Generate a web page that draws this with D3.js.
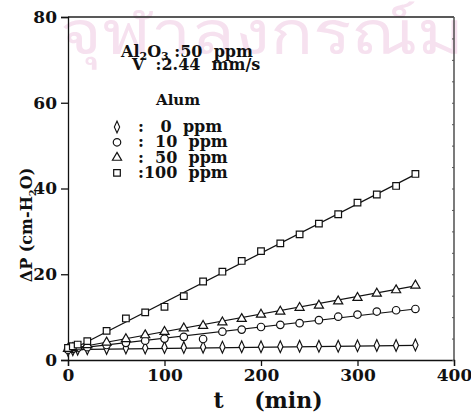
<!DOCTYPE html>
<html><head><meta charset="utf-8">
<script src="https://cdn.jsdelivr.net/npm/d3@7"></script>
<style>body{margin:0;background:#fff}svg{display:block}text{font-family:"DejaVu Serif",serif;font-weight:bold;fill:#111}</style>
</head><body>
<svg id="c" width="471" height="412"></svg>
<script>
const times = [0,5,10,20,40,60,80,100,120,140,160,180,200,220,240,260,280,300,320,340,360];
const alum0   = [2.3,2.4,2.5,2.6,2.7,2.8,2.8,2.9,2.9,3.0,3.0,3.1,3.1,3.1,3.2,3.2,3.2,3.3,3.4,3.4,3.5];
const alum10  = [2.4,2.6,2.8,3.0,3.5,4.0,4.5,5.0,5.4,4.9,6.6,7.1,7.7,8.2,8.6,9.3,10.1,10.6,11.3,11.6,11.9];
const alum50  = [2.6,2.8,3.0,3.5,4.1,4.9,5.8,6.6,7.4,8.0,8.8,9.6,10.6,11.3,12.2,12.7,13.7,14.5,15.5,16.3,17.4];
const alum100 = [2.8,3.2,3.6,4.4,6.8,9.7,11.1,12.4,14.9,18.3,20.6,23.1,25.4,27.2,29.3,31.8,34.0,36.7,38.6,40.6,43.4];
// fitted straight lines: value at t = 0 and t = 360
const fitT = [0,360];
const fit0 = [2.4,3.4], fit10 = [2.5,11.9], fit50 = [2.5,17.3], fit100 = [2.0,43.3];
const xTicks = [0,100,200,300,400];
const yTicks = [0,20,40,60,80];
const legendLabels = [":   0  ppm", ":  10  ppm", ":  50  ppm", ":100  ppm"];

const svg = d3.select("#c");
const x = d3.scaleLinear().domain([0,400]).range([68,454]);
const y = d3.scaleLinear().domain([0,80]).range([360,17]);

// watermark
const wm = svg.append("text").attr("x",60).attr("y",54).attr("font-size",60)
  .style("font-family","'DejaVu Sans','Noto Sans',sans-serif").style("font-weight","normal")
  .style("fill","#f6e1ef").text("จุฬาลงกรณ์ม");
wm.attr("textLength",405).attr("lengthAdjust","spacingAndGlyphs");

// frame
svg.append("line").attr("x1",x(0)).attr("x2",x(400)).attr("y1",y(80)).attr("y2",y(80)).attr("stroke","#222").attr("stroke-width",1.3);
svg.append("line").attr("x1",x(400)).attr("x2",x(400)).attr("y1",y(80)).attr("y2",y(0)).attr("stroke","#333").attr("stroke-width",1.3);

const gx = svg.append("g").attr("transform",`translate(0,${y(0)})`);
gx.call(d3.axisBottom(x).tickValues(d3.range(0,401,20)).tickSize(4).tickFormat(""));
gx.call(d3.axisBottom(x).tickValues(xTicks).tickSize(6).tickPadding(3).tickFormat(d3.format("d")));
gx.selectAll("text").attr("font-size",17);
gx.selectAll("path,line").attr("stroke","#111").attr("stroke-width",1.3);

const gy = svg.append("g").attr("transform",`translate(${x(0)},0)`);
gy.call(d3.axisLeft(y).tickValues(d3.range(0,81,5)).tickSize(4).tickFormat(""));
gy.call(d3.axisLeft(y).tickValues(yTicks).tickSize(7).tickPadding(4).tickFormat(d3.format("d")));
gy.selectAll("text").attr("font-size",17);
gy.selectAll("path,line").attr("stroke","#111").attr("stroke-width",1.3);

const gr = svg.append("g").attr("transform",`translate(${x(400)},0)`);
gr.call(d3.axisLeft(y).tickValues(d3.range(0,81,5)).tickSize(2).tickFormat(""));
gr.selectAll("path").remove();
gr.selectAll("line").attr("stroke","#555");

// axis titles
svg.append("text").attr("x",268).attr("y",408).attr("text-anchor","middle").attr("font-size",22)
  .attr("xml:space","preserve").text("t    (min)");
svg.append("text").attr("transform","translate(32,225) rotate(-90)").attr("text-anchor","middle").attr("font-size",16)
  .html('ΔP (cm-H<tspan font-size="10" dy="4">2</tspan><tspan dy="-4">O)</tspan>');

// fitted lines
const fits = [fit0,fit10,fit50,fit100];
fits.forEach(f=>{
  svg.append("line").attr("x1",x(fitT[0])).attr("y1",y(f[0])).attr("x2",x(fitT[1])).attr("y2",y(f[1]))
    .attr("stroke","#111").attr("stroke-width",1.2);
});

// markers
const sym = [
  d3.symbol().type(d3.symbolDiamond).size(30),
  d3.symbol().type(d3.symbolCircle).size(44),
  d3.symbol().type(d3.symbolTriangle).size(36),
  d3.symbol().type(d3.symbolSquare).size(44)
];
const series = [alum0,alum10,alum50,alum100];
series.forEach((s,i)=>{
  svg.append("g").selectAll("path").data(s).join("path")
    .attr("d",sym[i]())
    .attr("transform",(d,j)=>`translate(${x(times[j])},${y(d)})${i===0?" scale(0.9,1.15)":""}`)
    .attr("fill","#fff").attr("stroke","#111").attr("stroke-width",1.2);
});

// annotation
const ann = svg.append("g");
ann.append("text").attr("x",121).attr("y",57).attr("font-size",16).attr("xml:space","preserve")
  .html('Al<tspan font-size="11" dy="3">2</tspan><tspan dy="-3">O</tspan><tspan font-size="11" dy="3">3</tspan><tspan dy="-3"> :50  ppm</tspan>');
ann.append("text").attr("x",132).attr("y",70).attr("font-size",16).attr("xml:space","preserve").text("V  :2.44  mm/s");
ann.append("text").attr("x",156).attr("y",105).attr("font-size",15).text("Alum");
legendLabels.forEach((l,i)=>{
  const yy = 127 + i*15.3;
  ann.append("path").attr("d",sym[i]()).attr("transform",`translate(117,${yy})${i===0?" scale(0.9,1.15)":""}`)
    .attr("fill","#fff").attr("stroke","#111").attr("stroke-width",1.2);
  ann.append("text").attr("x",138).attr("y",yy+5).attr("font-size",16).attr("xml:space","preserve").text(l);
});
</script>
</body></html>
